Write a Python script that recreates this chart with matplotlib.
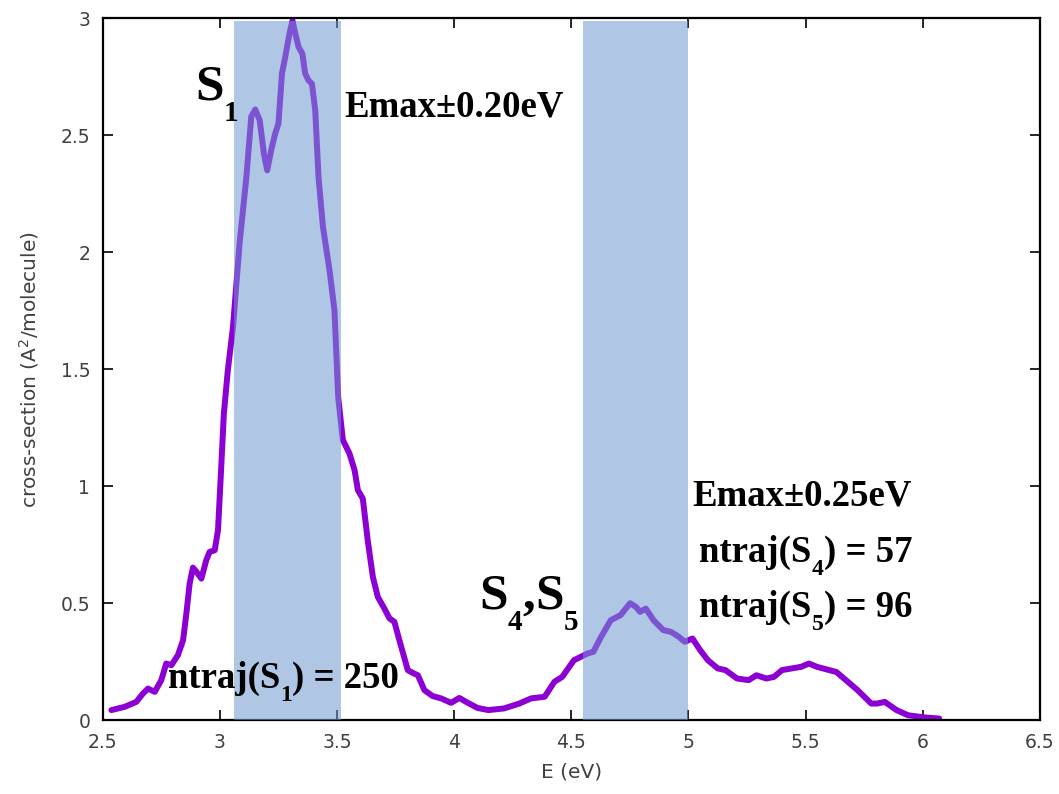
import matplotlib.pyplot as plt
import matplotlib.transforms as mtransforms
import numpy as np

# spectrum
energy = [2.537, 2.594, 2.643, 2.672, 2.693, 2.722, 2.75, 2.771, 2.793, 2.821,
          2.843, 2.857, 2.871, 2.885, 2.9, 2.921, 2.942, 2.956, 2.978, 2.992,
          3.003, 3.017, 3.034, 3.056, 3.084, 3.113, 3.134, 3.151, 3.17, 3.188,
          3.202, 3.219, 3.236, 3.25, 3.265, 3.279, 3.297, 3.31, 3.322, 3.336,
          3.352, 3.364, 3.378, 3.393, 3.407, 3.421, 3.44, 3.468, 3.489, 3.505,
          3.525, 3.553, 3.575, 3.589, 3.61, 3.631, 3.653, 3.674, 3.702, 3.724,
          3.745, 3.766, 3.802, 3.823, 3.845, 3.873, 3.908, 3.944, 3.987, 4.022,
          4.051, 4.1, 4.146, 4.212,
          4.278, 4.328, 4.386, 4.428, 4.461, 4.511, 4.569, 4.594, 4.627, 4.668,
          4.71, 4.751, 4.776, 4.793, 4.818, 4.851, 4.892, 4.926, 4.959, 4.984,
          5.017, 5.05, 5.083, 5.125, 5.158, 5.207, 5.257, 5.29, 5.332, 5.365,
          5.399, 5.44, 5.481, 5.514, 5.548, 5.589, 5.631, 5.672, 5.722, 5.78,
          5.805, 5.838, 5.888, 5.937, 6.004, 6.07]
sigma = [0.043, 0.057, 0.078, 0.114, 0.135, 0.121, 0.171, 0.242, 0.235, 0.278,
         0.342, 0.456, 0.584, 0.652, 0.634, 0.605, 0.684, 0.719, 0.726, 0.812,
         1.026, 1.31, 1.496, 1.68, 2.037, 2.32, 2.58, 2.61, 2.564, 2.42,
         2.35, 2.436, 2.507, 2.55, 2.764, 2.835, 2.934, 2.99, 2.934, 2.877,
         2.849, 2.764, 2.735, 2.72, 2.607, 2.32, 2.108, 1.923, 1.752, 1.38,
         1.197, 1.14, 1.068, 0.983, 0.947, 0.769, 0.612, 0.527, 0.477, 0.435,
         0.42, 0.342, 0.214, 0.202, 0.192, 0.128, 0.103, 0.093, 0.074, 0.095,
         0.078, 0.052, 0.043, 0.05,
         0.071, 0.093, 0.10, 0.164, 0.185, 0.256, 0.285, 0.292, 0.356, 0.427,
         0.449, 0.50, 0.484, 0.463, 0.477, 0.427, 0.385, 0.377, 0.356, 0.335,
         0.349, 0.299, 0.256, 0.221, 0.214, 0.178, 0.171, 0.192, 0.178, 0.185,
         0.214, 0.221, 0.228, 0.242, 0.228, 0.217, 0.206, 0.171, 0.128, 0.071,
         0.071, 0.078, 0.043, 0.021, 0.012, 0.007]

# excitation windows
windows = [(3.06, 3.515), (4.55, 5.0)]

fig = plt.figure(figsize=(10.59, 7.94), dpi=100)
ax = fig.add_axes([0.097, 0.093, 0.885, 0.884])
renderer = fig.canvas.get_renderer()

ax.plot(energy, sigma, color='#8c00d4', lw=4.3, solid_capstyle='round',
        solid_joinstyle='round', zorder=2)
for lo, hi in windows:
    ax.fill_between([lo, hi], 0, 2.99, color='#6f98d0', alpha=0.55, lw=0, zorder=3)

ax.set_xlim(2.5, 6.5)
ax.set_ylim(0, 3)
ax.set_xticks(np.arange(2.5, 6.51, 0.5))
ax.set_yticks(np.arange(0, 3.01, 0.5))
ax.set_xticklabels(['2.5', '3', '3.5', '4', '4.5', '5', '5.5', '6', '6.5'])
ax.set_yticklabels(['0', '0.5', '1', '1.5', '2', '2.5', '3'])
ax.tick_params(direction='in', length=7, width=1.2, top=True, right=True,
               labelsize=13.5, labelcolor='#404040', pad=9)
for s in ax.spines.values():
    s.set_linewidth(1.6)
ax.set_xlabel('E (eV)', fontsize=14.5, color='#404040', labelpad=8)
ax.set_ylabel(r'cross-section (A$^2$/molecule)', fontsize=14.5, color='#404040', labelpad=14)

txt = dict(fontfamily='Liberation Serif', fontweight='bold', color='black', zorder=5)


def label(x, y, parts):
    # parts: (text, fontsize, vertical shift in points)
    dx = 0
    for s, fs, dy in parts:
        tr = mtransforms.offset_copy(ax.transData, fig=fig, x=dx, y=dy, units='points')
        t = ax.text(x, y, s, fontsize=fs, transform=tr, **txt)
        dx += t.get_window_extent(renderer).width * 72 / fig.dpi


big, small = 37, 21
norm, sub = 26.5, 17
label(2.895, 2.654, [('S', big, 0), ('1', small, -16)])
label(4.108, 0.479, [('S', big, 0), ('4', small, -16), (',', big, 0),
                     ('S', big, 0), ('5', small, -16)])
label(3.532, 2.58, [('Emax±0.20eV', norm, 0)])
label(2.777, 0.137, [('ntraj(S', norm, 0), ('1', sub, -9.5), (') = 250', norm, 0)])
label(5.017, 0.919, [('Emax±0.25eV', norm, 0)])
label(5.046, 0.677, [('ntraj(S', norm, 0), ('4', sub, -9.5), (') = 57', norm, 0)])
label(5.046, 0.441, [('ntraj(S', norm, 0), ('5', sub, -9.5), (') = 96', norm, 0)])

fig.savefig('out.png', dpi=100)
